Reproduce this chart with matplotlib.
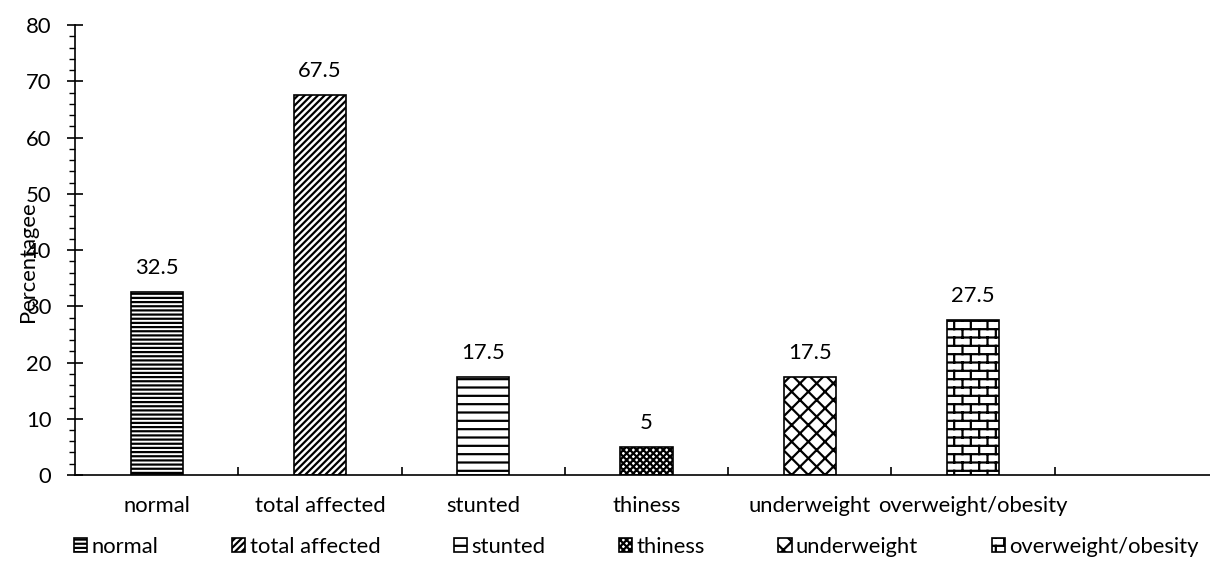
import warnings
import numpy as np
import matplotlib
matplotlib.use("Agg")
import matplotlib.pyplot as plt
from matplotlib import hatch as mhatch
from matplotlib.path import Path

warnings.filterwarnings("ignore")

categories = ["normal", "total affected", "stunted", "thiness",
              "underweight", "overweight/obesity"]
percentages = [32.5, 67.5, 17.5, 5, 17.5, 27.5]
hatches = ["----", "/////", "--", "xxxxx", "xx", "bb"]


class BrickHatch(mhatch.HatchPatternBase):
    """Running-bond brick pattern, one set of rows per 'b' in the hatch."""

    def __init__(self, hatch, density):
        self.num_rows = hatch.count("b") * density
        self.num_cols = self.num_rows // 2
        # horizontal joints for each row, vertical joints for each row plus
        # the one that wraps across the bottom edge of the tile
        self.num_vertices = (2 * self.num_rows
                             + 2 * (self.num_rows + 1) * self.num_cols)

    def set_vertices_and_codes(self, vertices, codes):
        n, m = self.num_rows, self.num_cols
        k = 0
        for i in range(n):
            y0 = (i + 0.5) / n
            vertices[k] = (0.0, y0)
            vertices[k + 1] = (1.0, y0)
            codes[k], codes[k + 1] = Path.MOVETO, Path.LINETO
            k += 2
        for i in range(-1, n):
            y0 = (i + 0.5) / n
            shift = 0.5 / m if i % 2 else 0.0
            for j in range(m):
                xj = (j + 0.25) / m + shift
                vertices[k] = (xj, y0)
                vertices[k + 1] = (xj, y0 + 1.0 / n)
                codes[k], codes[k + 1] = Path.MOVETO, Path.LINETO
                k += 2


mhatch._hatch_types.append(BrickHatch)

FS = 15.8
plt.rcParams["font.family"] = ["Lato", "DejaVu Sans"]
plt.rcParams["font.size"] = FS
plt.rcParams["hatch.linewidth"] = 1.6

fig = plt.figure(figsize=(12.10, 5.61), dpi=100)
ax = fig.add_axes([0.062, 0.1533, 0.9446, 0.8021])

x = np.arange(len(categories))
bars = ax.bar(x, percentages, width=0.32, color="white", edgecolor="black",
              linewidth=1.2, hatch=hatches)
for b, name in zip(bars, categories):
    b.set_label(name)
ax.bar_label(bars, labels=[f"{v:g}" for v in percentages], padding=10,
             fontsize=FS)

ax.set_xlim(-0.5, 6.5)
ax.set_ylim(0, 80)
ax.set_yticks(np.arange(0, 81, 10))
ax.set_yticks(np.arange(0, 81, 2), minor=True)
ax.tick_params(axis="y", which="major", direction="inout", length=12,
               width=1.2, pad=11)
ax.tick_params(axis="y", which="minor", direction="out", length=4, width=1.0)

# category names sit between the boundary ticks
ax.set_xticks(np.arange(0.5, 6.0, 1.0))
ax.set_xticklabels([])
ax.set_xticks(x, minor=True)
ax.set_xticklabels(categories, minor=True)
ax.tick_params(axis="x", which="major", direction="in", length=6, width=1.2)
ax.tick_params(axis="x", which="minor", length=0, pad=15)

for side in ("top", "right"):
    ax.spines[side].set_visible(False)
for side in ("left", "bottom"):
    ax.spines[side].set_linewidth(1.2)

fig.text(28 / 1210, 1 - 262 / 561, "Percentagee", rotation=90,
         ha="center", va="center", fontsize=FS)

fig.legend(handles=list(bars), labels=categories, loc="center",
           bbox_to_anchor=(0.526, 0.025), ncol=6, frameon=False,
           handlelength=0.6, handleheight=0.6, handletextpad=0.2,
           columnspacing=3.35, fontsize=FS)

fig.savefig("out.png", dpi=100)
